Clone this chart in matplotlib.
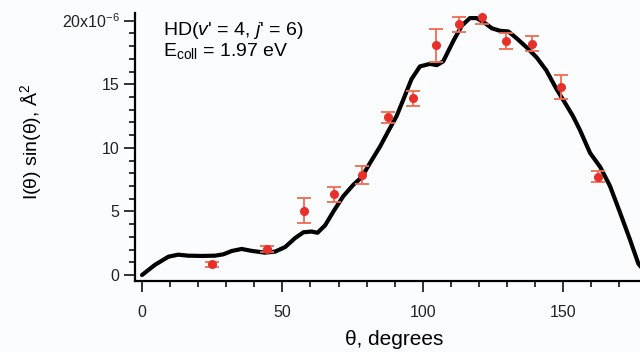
"""Differential cross section of HD(v'=4, j'=6) at E_coll = 1.97 eV."""

import matplotlib
matplotlib.use("Agg")
import matplotlib.pyplot as plt
from matplotlib.ticker import MultipleLocator, FixedLocator, FixedFormatter

plt.rcParams["font.family"] = ["Liberation Sans", "DejaVu Sans"]
plt.rcParams["mathtext.fontset"] = "custom"
plt.rcParams["mathtext.rm"] = "Liberation Sans"
plt.rcParams["mathtext.it"] = "Liberation Sans:italic"

# measured points (theta in degrees, value in 1e-6 A^2, error)
exp_theta = [25, 44.4, 57.7, 68.5, 78.5, 87.8, 96.7, 104.7, 112.9, 121.2, 129.7,
             138.8, 149.2, 162.6]
exp_value = [0.84, 2.05, 5.06, 6.35, 7.87, 12.4, 13.9, 18.05, 19.7, 20.26, 18.4,
             18.2, 14.8, 7.74]
exp_error = [0.2, 0.25, 1.0, 0.6, 0.7, 0.45, 0.6, 1.3, 0.6, 0.5, 0.62, 0.6,
             0.95, 0.4]

# theory curve
th_theta = [0, 4.6, 9.4, 12.9, 16.5, 21.3, 26, 29, 32, 35.5, 39, 43.8, 47.4, 51,
            54.5, 57.5, 60.4, 62.5, 65.2, 68.2, 71.7, 75.3, 78.3, 81.2, 84.8,
            87.7, 90.7, 93.1, 96, 99, 102.6, 105, 107.3, 110.9, 113.9, 116.8,
            119.2, 122.2, 124.6, 127.5, 130.5, 133.5, 137, 140.6, 144, 147.7,
            150.5, 153.5, 156, 159.6, 163.2, 166.7, 170.3, 173.8, 176.8, 180]
th_value = [0.0, 0.8, 1.44, 1.6, 1.52, 1.5, 1.52, 1.63, 1.89, 2.05, 1.9, 1.76,
            1.84, 2.2, 2.9, 3.36, 3.42, 3.32, 3.9, 5.0, 6.2, 7.1, 7.7, 8.8, 10.1,
            11.3, 12.5, 13.8, 15.4, 16.4, 16.6, 16.5, 16.8, 18.4, 19.6, 20.2,
            20.2, 19.8, 19.4, 19.2, 19.15, 18.6, 17.9, 17.1, 16.1, 14.6, 13.6,
            12.5, 11.4, 9.6, 8.5, 7.0, 4.9, 2.8, 0.9, 0.0]

y_ticks = [0, 5, 10, 15, 20]
y_labels = ["0", "5", "10", "15", "20x10$^{-6}$"]

fig = plt.figure(figsize=(6.4, 3.52), dpi=100)
fig.patch.set_facecolor("#fbfcfe")
ax = fig.add_axes([135 / 640, 71 / 352, 505 / 640, 268 / 352])
ax.set_facecolor("#fbfcfe")

ax.plot(th_theta, th_value, color="black", lw=3.0, solid_capstyle="round",
        solid_joinstyle="round", zorder=2)
ax.errorbar(exp_theta, exp_value, yerr=exp_error, fmt="o", color="#e8302a",
            ms=5.5, ecolor="#f26a50", elinewidth=1.3, capsize=5, capthick=1.3,
            zorder=3)

ax.set_xlim(-2.5, 177.4)
ax.set_ylim(-0.47, 20.6)

for side in ["top", "right"]:
    ax.spines[side].set_visible(False)
for side in ["left", "bottom"]:
    ax.spines[side].set_linewidth(1.6)

ax.xaxis.set_major_locator(MultipleLocator(50))
ax.xaxis.set_minor_locator(MultipleLocator(10))
ax.yaxis.set_major_locator(FixedLocator(y_ticks))
ax.yaxis.set_major_formatter(FixedFormatter(y_labels))
ax.yaxis.set_minor_locator(MultipleLocator(1))
ax.tick_params(which="major", length=8, width=1.3, labelsize=11.5, direction="out",
               colors="#222222")
ax.tick_params(which="minor", length=4.5, width=1.3, direction="out", colors="#222222")
ax.tick_params(axis="x", pad=9)
ax.tick_params(axis="y", pad=3)

ax.set_xlabel("θ, degrees", fontsize=15, va="center")
ax.xaxis.set_label_coords(0.513, -0.22)
ax.set_ylabel("I(θ) sin(θ), Å$^2$", fontsize=14, va="center")
ax.yaxis.set_label_coords(-0.205, 0.52)

ax.text(0.055, 0.975, "HD($v$' = 4, $j$' = 6)\nE$_{\\rm coll}$ = 1.97 eV",
        transform=ax.transAxes, fontsize=14, va="top", ha="left",
        linespacing=1.05)

fig.savefig("out.png", dpi=100, facecolor=fig.get_facecolor())
